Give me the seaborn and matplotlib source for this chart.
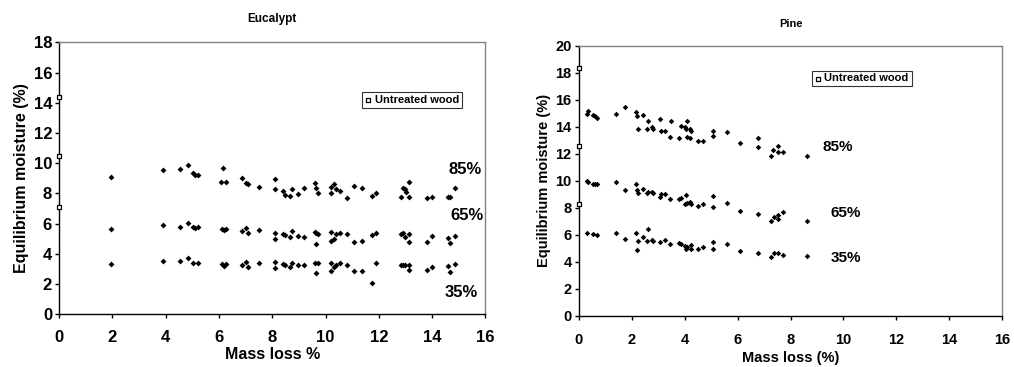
import matplotlib
matplotlib.use("Agg")
import matplotlib.pyplot as plt
import seaborn as sns
import pandas as pd

sns.set_theme(style="white")
plt.rcParams['font.family'] = ['Liberation Sans', 'DejaVu Sans']
plt.rcParams['font.weight'] = 'bold'
for k in ['text.color', 'axes.labelcolor', 'xtick.color', 'ytick.color', 'axes.edgecolor']:
    plt.rcParams[k] = 'black'

# ---------------- Eucalypt data ----------------
euc_untreated_x = [0, 0, 0]
euc_untreated_y = [14.4, 10.5, 7.1]

euc85_x = [1.94, 3.9, 4.54, 4.83, 5.04, 5.1, 5.22, 6.15, 6.07, 6.26, 6.88, 7.03, 7.1, 7.51,
           8.11, 8.11, 8.4, 8.49, 8.66, 8.74, 8.95, 9.19, 9.6, 9.66, 9.72, 10.2, 10.2, 10.31,
           10.41, 10.56, 10.81, 11.06, 11.38, 11.75, 11.88, 12.83, 12.89, 12.97, 13.02, 13.14,
           13.15, 13.82, 14.0, 14.58, 14.67, 14.87]
euc85_y = [9.11, 9.55, 9.64, 9.86, 9.33, 9.22, 9.22, 9.68, 8.76, 8.76, 9.0, 8.71, 8.6, 8.45,
           8.98, 8.29, 8.16, 7.88, 7.83, 8.29, 7.94, 8.36, 8.71, 8.36, 8.05, 8.4, 8.05, 8.65,
           8.27, 8.14, 7.72, 8.49, 8.38, 7.83, 8.0, 7.79, 8.38, 8.27, 8.12, 8.76,
           7.79, 7.72, 7.79, 7.79, 7.79, 8.34]

euc65_x = [1.94, 3.9, 4.54, 4.83, 5.04, 5.1, 5.22, 6.1, 6.18, 6.26, 6.88, 7.03, 7.1, 7.51,
           8.11, 8.11, 8.4, 8.49, 8.66, 8.74, 8.95, 9.19, 9.6, 9.66, 9.72, 9.66, 10.2, 10.2,
           10.31, 10.41, 10.56, 10.81, 11.06, 11.38, 11.75, 11.88, 12.83, 12.89, 12.97, 13.14,
           13.15, 13.82, 14.0, 14.58, 14.67, 14.87]
euc65_y = [5.67, 5.89, 5.8, 6.07, 5.8, 5.69, 5.8, 5.63, 5.58, 5.63, 5.52, 5.69, 5.36, 5.58,
           5.4, 4.99, 5.29, 5.23, 5.14, 5.52, 5.18, 5.14, 5.47, 5.36, 5.29, 4.65, 5.47, 4.85,
           4.96, 5.29, 5.4, 5.29, 4.79, 4.85, 5.23, 5.4, 5.29, 5.4, 5.14, 5.29,
           4.79, 4.79, 5.18, 5.07, 4.7, 5.18]

euc35_x = [1.94, 3.9, 4.54, 4.83, 5.04, 5.22, 6.1, 6.18, 6.26, 6.88, 7.03, 7.1, 7.51,
           8.11, 8.11, 8.4, 8.49, 8.66, 8.74, 8.95, 9.19, 9.6, 9.72, 9.66, 10.2, 10.2, 10.31,
           10.41, 10.56, 10.81, 11.06, 11.38, 11.75, 11.88, 12.83, 12.89, 12.97, 13.14, 13.15,
           13.82, 14.0, 14.58, 14.67, 14.87]
euc35_y = [3.31, 3.53, 3.53, 3.71, 3.42, 3.38, 3.31, 3.22, 3.31, 3.26, 3.49, 3.15, 3.38,
           3.49, 3.09, 3.31, 3.24, 3.15, 3.42, 3.24, 3.24, 3.38, 3.38, 2.71, 3.38, 2.87, 3.15,
           3.26, 3.38, 3.24, 2.87, 2.87, 2.05, 3.42, 3.24, 3.24, 3.24, 3.24, 2.93,
           2.93, 3.15, 3.2, 2.78, 3.31]

# ---------------- Pine data ----------------
pine_untreated_x = [0, 0, 0]
pine_untreated_y = [18.37, 12.6, 8.29]

pine85_x = [0.33, 0.36, 0.55, 0.62, 0.7, 1.41, 1.75, 2.15, 2.19, 2.24, 2.42, 2.57, 2.63, 2.75,
            2.82, 3.07, 3.11, 3.26, 3.47, 3.45, 3.77, 3.86, 4.01, 4.04, 4.1, 4.08, 4.2, 4.23,
            4.2, 4.49, 4.7, 5.06, 5.08, 5.61, 6.1, 6.76, 6.76, 7.25, 7.35, 7.51, 7.53, 7.71, 8.62]
pine85_y = [14.94, 15.14, 14.84, 14.77, 14.64, 14.94, 15.43, 15.09, 14.77, 13.83, 14.87, 13.86,
            14.4, 13.95, 13.86, 14.6, 13.68, 13.68, 14.42, 13.24, 13.19, 14.05, 14.0, 13.8,
            14.42, 13.26, 13.8, 13.66, 13.19, 12.97, 12.97, 13.34, 13.68, 13.59, 12.82, 13.14,
            12.48, 11.84, 12.28, 12.57, 12.16, 12.16, 11.84]

pine65_x = [0.33, 0.36, 0.53, 0.62, 0.7, 1.41, 1.75, 2.15, 2.19, 2.24, 2.42, 2.57, 2.63, 2.75,
            2.82, 3.07, 3.11, 3.26, 3.45, 3.77, 3.86, 4.04, 4.01, 4.08, 4.2, 4.23, 4.49, 4.7,
            5.06, 5.06, 5.61, 6.1, 6.76, 7.25, 7.37, 7.51, 7.53, 7.71, 8.62]
pine65_y = [9.98, 9.89, 9.79, 9.79, 9.79, 9.94, 9.32, 9.79, 9.3, 9.07, 9.42, 9.07, 9.2, 9.15,
            9.07, 8.83, 9.0, 9.02, 8.63, 8.68, 8.73, 8.92, 8.28, 8.33, 8.43, 8.28, 8.16, 8.28,
            8.9, 8.09, 8.38, 7.74, 7.54, 7.05, 7.35, 7.5, 7.17, 7.69, 7.03]

pine35_x = [0.33, 0.55, 0.7, 1.41, 1.75, 2.15, 2.24, 2.19, 2.42, 2.57, 2.63, 2.75, 2.82, 3.07,
            3.26, 3.45, 3.77, 3.86, 4.01, 4.08, 4.23, 4.04, 4.23, 4.49, 4.7, 5.06, 5.06, 5.61,
            6.1, 6.76, 7.25, 7.37, 7.51, 7.71, 8.62]
pine35_y = [6.11, 6.04, 5.99, 6.16, 5.72, 6.16, 5.55, 4.88, 5.82, 5.55, 6.43, 5.6, 5.55, 5.47,
            5.6, 5.32, 5.42, 5.32, 5.17, 5.07, 5.27, 4.93, 4.93, 4.97, 5.07, 5.45, 4.95, 5.3,
            4.8, 4.68, 4.39, 4.63, 4.68, 4.53, 4.46]

panels = [
    dict(title="Eucalypt", xlabel="Mass loss %", ymax=18,
         untreated=(euc_untreated_x, euc_untreated_y),
         series=[("85%", euc85_x, euc85_y), ("65%", euc65_x, euc65_y), ("35%", euc35_x, euc35_y)],
         labels=[("85%", 15.25, 9.55), ("65%", 15.3, 6.57), ("35%", 15.1, 1.41)],
         pos=[0.0582, 0.1436, 0.4205, 0.7411], tick_fs=12, lab_fs=11.5, title_fs=8.5,
         title_y=19, msize=9, txt_fs=12, leg=(0.71, 0.76), xpad=8, xlabpad=2),
    dict(title="Pine", xlabel="Mass loss (%)", ymax=20,
         untreated=(pine_untreated_x, pine_untreated_y),
         series=[("85%", pine85_x, pine85_y), ("65%", pine65_x, pine65_y), ("35%", pine35_x, pine35_y)],
         labels=[("85%", 9.8, 12.52), ("65%", 10.08, 7.6), ("35%", 10.08, 4.31)],
         pos=[0.5707, 0.139, 0.4178, 0.7365], tick_fs=10.5, lab_fs=10.5, title_fs=8,
         title_y=24, msize=8, txt_fs=11, leg=(0.55, 0.85), xpad=9, xlabpad=3),
]

fig = plt.figure(figsize=(10.14, 3.67), dpi=100)

for p in panels:
    ax = fig.add_axes(p["pos"])
    for name, xs, ys in p["series"]:
        df = pd.DataFrame({"x": xs, "y": ys})
        sns.scatterplot(data=df, x="x", y="y", ax=ax, marker="D", color="black",
                        s=p["msize"], edgecolor="black", linewidth=0, legend=False,
                        clip_on=False, zorder=3)
    ux, uy = p["untreated"]
    udf = pd.DataFrame({"x": ux, "y": uy})
    h = ax.scatter(udf["x"], udf["y"], marker="s", s=11, facecolors="white",
                   edgecolors="black", linewidths=0.9, clip_on=False, zorder=4,
                   label="Untreated wood")
    ax.set_xlim(0, 16)
    ax.set_ylim(0, p["ymax"])
    ax.set_xticks(range(0, 17, 2))
    ax.set_yticks(range(0, p["ymax"] + 1, 2))
    ax.tick_params(axis="both", which="both", direction="out", length=3, width=1,
                   colors="black", labelsize=p["tick_fs"], pad=2,
                   bottom=True, left=True)
    ax.tick_params(axis="x", pad=p["xpad"])
    for lab in ax.get_xticklabels() + ax.get_yticklabels():
        lab.set_fontweight("bold")
    for s in ["left", "bottom"]:
        ax.spines[s].set_color("black")
        ax.spines[s].set_linewidth(1.0)
    for s in ["top", "right"]:
        ax.spines[s].set_color("#808080")
        ax.spines[s].set_linewidth(1.0)
    ax.set_xlabel(p["xlabel"], fontsize=p["lab_fs"], fontweight="bold", labelpad=p["xlabpad"])
    ax.set_ylabel("Equilibrium moisture (%)", fontsize=p["lab_fs"], fontweight="bold", labelpad=3)
    ax.grid(False)
    for t, tx, ty in p["labels"]:
        ax.text(tx, ty, t, fontsize=p["txt_fs"], fontweight="bold", ha="center", va="center")
    cx = p["pos"][0] + p["pos"][2] / 2
    fig.text(cx, 1 - p["title_y"] / 367, p["title"], fontsize=p["title_fs"],
             fontweight="bold", ha="center", va="center")
    leg = ax.legend(handles=[h], loc="lower left", bbox_to_anchor=p["leg"],
                    frameon=True, fancybox=False, handlelength=0.6,
                    handletextpad=0.3, borderpad=0.25, borderaxespad=0,
                    prop={"weight": "bold", "size": 8})
    leg.get_frame().set_edgecolor("black")
    leg.get_frame().set_linewidth(0.8)

fig.savefig("out.png", dpi=100)
